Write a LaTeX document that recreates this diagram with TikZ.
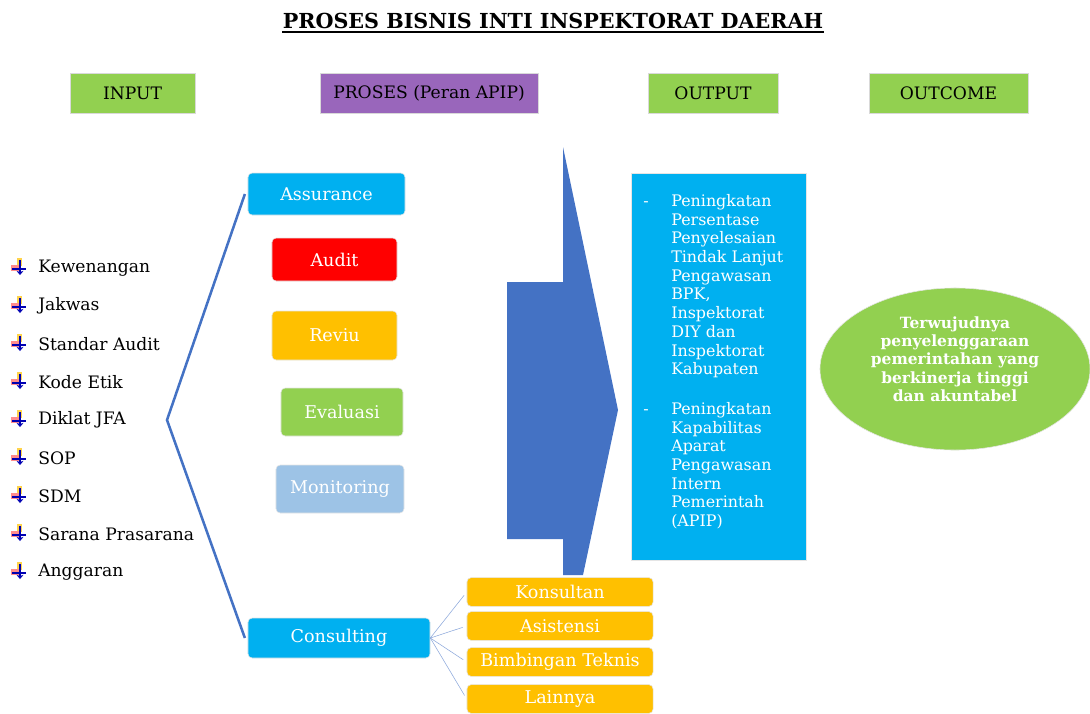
\documentclass[tikz,border=0pt]{standalone}
\usepackage{fontspec}
\setmainfont{DejaVu Serif}
\usetikzlibrary{positioning,shapes.geometric,arrows.meta}

\definecolor{hijau}{HTML}{92D050}
\definecolor{ungu}{HTML}{9966BB}
\definecolor{biru}{HTML}{00B0F0}
\definecolor{birutua}{HTML}{4472C4}
\definecolor{birumuda}{HTML}{9DC3E6}
\definecolor{kuning}{HTML}{FFC000}
\definecolor{garis}{HTML}{8FAADC}

\tikzset{
  judul/.style={draw=black!15,minimum height=1cm,font=\fontsize{12.2}{14}\selectfont},
  kotak/.style={rounded corners=3pt,draw=white!80!gray,text=white,font=\fontsize{12.5}{14}\selectfont},
  sub/.style={kotak,minimum width=4.65cm,minimum height=0.72cm,fill=kuning},
  isi/.style={font=\fontsize{12.2}{14}\selectfont},
  keluaran/.style={text=white,inner sep=0pt,font=\fontsize{11.3}{13.3}\selectfont}
}

\begin{document}
\begin{tikzpicture}[x=0.025cm,y=-0.025cm]
\useasboundingbox (0,0) rectangle (1090,713);
% judul
\node (title) at (553,21) {\fontsize{14.7}{16}\selectfont\bfseries PROSES BISNIS INTI INSPEKTORAT DAERAH};
\draw[line width=1.3pt] (title.south west) ++(3pt,1pt) -- ([shift={(-3pt,1pt)}]title.south east);
% kepala kolom
\node[judul,fill=hijau,minimum width=3.125cm] (hinput) at (132.5,93) {INPUT};
\node[judul,fill=ungu,minimum width=5.45cm] (hproses) at (429,93) {PROSES (Peran APIP)};
\node[judul,fill=hijau,minimum width=3.25cm] (houtput) at (713,93) {OUTPUT};
\node[judul,fill=hijau,minimum width=3.975cm] (houtcome) at (948.5,93) {OUTCOME};
% input
\foreach \t [count=\i] in {Kewenangan,Jakwas,Standar Audit,Kode Etik,Diklat JFA,SOP,SDM,Sarana Prasarana,Anggaran}{
  \node[isi,anchor=west,inner sep=0pt] (in\i) at (38,268+38*\i-38) {\t};
  \fill[kuning!70] ([shift={(-21,-10)}]in\i.west) rectangle ++(5,8);
  \fill[red!45] ([shift={(-27,-3)}]in\i.west) rectangle ++(8,6);
  \draw[blue!70!black,line width=1.3pt] ([shift={(-26,1)}]in\i.west) -- ++(14,0);
  \draw[blue!70!black,line width=1.1pt,-{Stealth[length=3pt,width=5pt]}] ([shift={(-18,-8)}]in\i.west) -- ++(0,15);
}
% proses
\node[kotak,fill=biru,minimum width=3.925cm,minimum height=1.05cm] (assur) at (326.5,194) {Assurance};
\node[kotak,fill=red,minimum width=3.125cm,minimum height=1.075cm] (audit) at (334.5,259.5) {Audit};
\node[kotak,fill=kuning,minimum width=3.125cm,minimum height=1.225cm] (reviu) at (334.5,335.5) {Reviu};
\node[kotak,fill=hijau,minimum width=3.05cm,minimum height=1.2cm] (eval) at (342,412) {Evaluasi};
\node[kotak,fill=birumuda,minimum width=3.2cm,minimum height=1.2cm] (monit) at (340,489) {Monitoring};
\node[kotak,fill=biru,minimum width=4.55cm,minimum height=1cm] (consult) at (339,638) {Consulting};
\coordinate (ujung) at (167,420);
\draw[birutua,line width=1.8pt] ([xshift=-2pt]assur.west) -- (ujung) -- ([xshift=-2pt]consult.west);
% sub consulting
\node[sub] (konsul) at (560,592) {Konsultan};
\node[sub] (asist) at (560,626) {Asistensi};
\node[sub] (bimtek) at (560,662) {Bimbingan Teknis};
\node[sub] (lain) at (560,699) {Lainnya};
\foreach \s in {konsul,asist,bimtek,lain}
  \draw[garis,thin,shorten >=3pt] (consult.east) -- (\s.west);
% panah besar
\fill[birutua] (563,147) -- (618,410) -- (583,575) -- (563,575) -- (563,539)
  -- (507,539) -- (507,282) -- (563,282) -- cycle;
% output
\node[fill=biru,draw=white!80!gray,minimum width=4.375cm,minimum height=9.675cm] (out) at (718.5,366.5) {};
\node[keluaran,anchor=north west,align=left] (out1) at (671,193) {\strut Peningkatan\\Persentase\\Penyelesaian\\Tindak Lanjut\\Pengawasan\\BPK,\\Inspektorat\\DIY dan\\Inspektorat\\Kabupaten};
\node[keluaran,anchor=north west,align=left] (out2) at (671,401) {\strut Peningkatan\\Kapabilitas\\Aparat\\Pengawasan\\Intern\\Pemerintah\\(APIP)};
\node[keluaran,anchor=north] (d1) at (646,193) {\strut -};
\node[keluaran,anchor=north] (d2) at (646,401) {\strut -};
% outcome
\node[ellipse,fill=hijau,draw=white!80!gray,minimum width=6.75cm,minimum height=4.05cm] (hasil) at (955,369) {};
\node[text=white,align=center,font=\fontsize{11}{13}\selectfont\bfseries] (hasilteks) at ([yshift=0.25cm]hasil.center) {Terwujudnya\\penyelenggaraan\\pemerintahan yang\\berkinerja tinggi\\dan akuntabel};
\end{tikzpicture}
\end{document}
